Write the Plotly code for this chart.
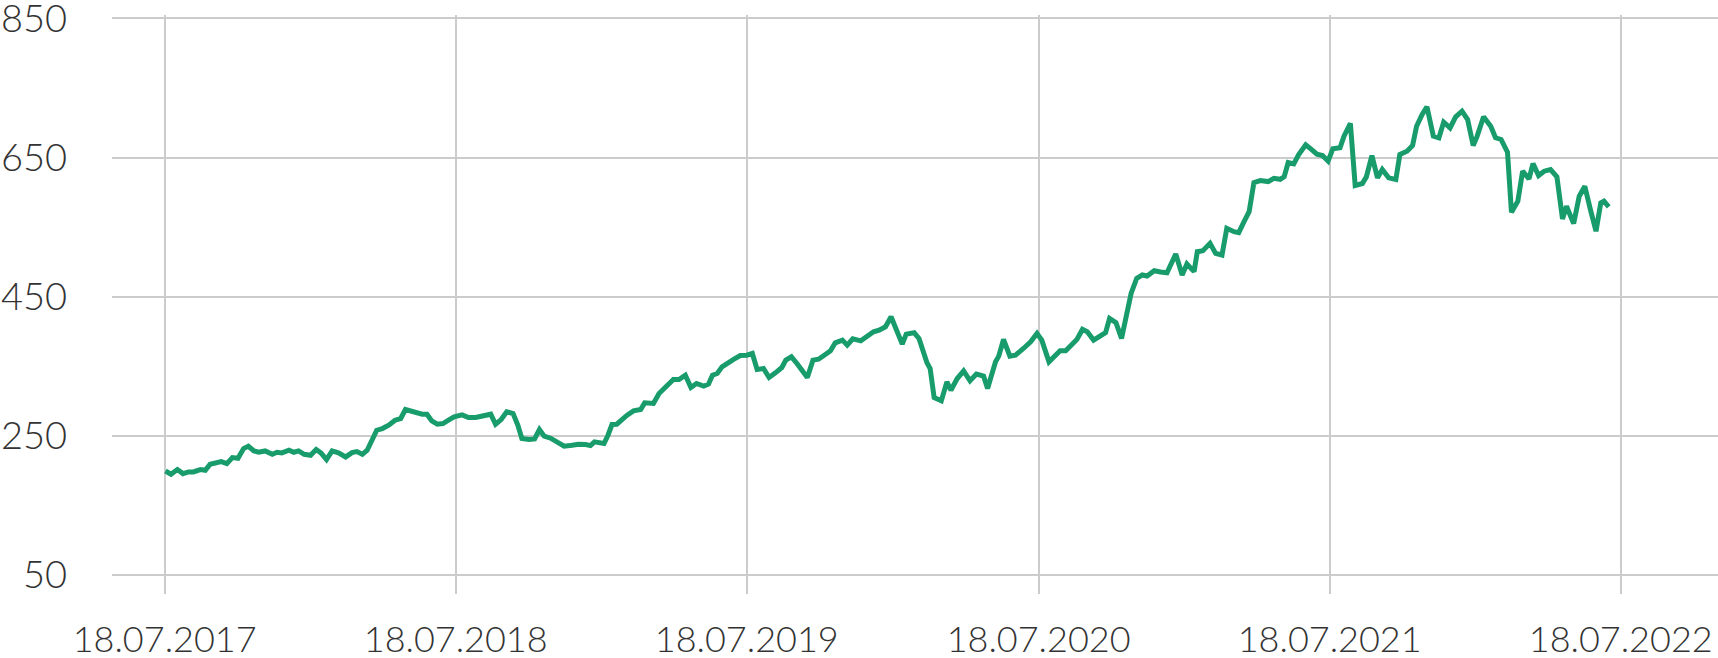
import pandas as pd
import plotly.graph_objects as go

days_since_start = [
    1, 8, 16, 23, 30, 36, 45, 51, 57, 66, 71, 78, 85, 92, 99, 105, 112, 118, 126, 135,
    141, 147, 156, 162, 168, 175, 183, 190, 196, 203, 210, 218, 227, 235, 241, 248, 254, 260, 266, 273,
    281, 289, 296, 302, 308, 317, 323, 329, 335, 342, 349, 356, 363, 373,
    381, 390, 398, 409, 415, 422, 429, 437, 443, 448, 457, 464, 470, 476, 484, 492, 501, 511, 519, 528,
    534, 539, 544, 551, 556, 561, 567, 574, 580, 588, 597, 602, 607, 613, 620, 628, 638, 645, 653, 660,
    667, 676, 682, 687, 693, 699, 706, 714, 722, 730, 737,
    743, 751, 758, 766, 774, 779, 786, 793, 799, 806, 813, 820, 829, 835, 841, 850, 856, 863, 873, 881,
    889, 896, 904, 911, 919, 925, 930, 940, 946, 952, 956, 960, 965, 974, 981, 986, 994, 1002, 1010, 1018,
    1027, 1032, 1042, 1046, 1052, 1060, 1067, 1077, 1086, 1094, 1100, 1109,
    1115, 1123, 1130, 1138, 1144, 1151, 1157, 1165, 1174, 1180, 1185, 1193, 1200, 1206, 1212, 1219, 1226,
    1232, 1241, 1249, 1257, 1268, 1276, 1282, 1291, 1295, 1302, 1311, 1318, 1326, 1332, 1341, 1347, 1353,
    1360, 1366, 1374, 1384, 1391, 1399, 1404, 1409, 1416, 1422, 1431, 1437,
    1445, 1452, 1459, 1465, 1474, 1479, 1487, 1493, 1502, 1507, 1514, 1521, 1527, 1535, 1544, 1549, 1558,
    1565, 1570, 1577, 1583, 1591, 1598, 1604, 1612, 1619, 1627, 1634, 1641, 1646, 1654, 1663, 1669, 1676,
    1684, 1689, 1697, 1703, 1711, 1716, 1723, 1730, 1738, 1746, 1753, 1758, 1767, 1774, 1781, 1788, 1795,
    1801, 1805, 1811,
]

prices = [
    199.6, 194.9, 201.6, 195.8, 198.2, 198.2, 201.6, 200.6, 209.3, 211.2, 213.1, 210.2, 218.8, 217.9, 231.8, 235.1, 228.4, 226.5, 228.4, 223.6,
    226.5, 225.6, 229.4, 226.5, 228.4, 223.6, 222.2, 230.4, 225.6, 216.0, 228.4, 225.6, 219.8, 226.0, 227.5, 223.6, 229.4, 243.8, 258.2, 260.6,
    265.4, 272.6, 275.0, 287.9, 286.0, 282.2, 281.2, 281.2, 271.6, 266.8, 267.8, 272.6, 277.4, 280.2,
    276.4, 276.4, 278.4, 281.2, 266.8, 273.5, 284.6, 282.2, 265.4, 246.2, 244.8, 245.7, 259.2, 249.6, 246.7, 241.4, 235.2, 236.6, 238.1, 237.6,
    236.1, 241.4, 240.0, 239.0, 251.0, 266.4, 266.8, 275.0, 279.8, 286.0, 287.9, 297.5, 297.5, 296.6, 311.0, 319.6, 331.1, 331.1, 337.3, 319.6,
    325.4, 321.5, 324.4, 337.3, 339.7, 349.3, 355.0, 360.3, 365.6, 366.1, 368.5,
    345.5, 346.9, 334.0, 340.7, 348.3, 358.9, 363.7, 354.1, 343.5, 334.0, 358.9, 360.3, 367.5, 372.3, 383.8, 387.7, 380.5, 389.6, 386.7, 392.5,
    399.7, 402.1, 406.9, 421.2, 397.3, 381.9, 396.3, 398.2, 390.1, 366.1, 355.1, 346.9, 305.2, 300.4, 327.7, 315.7, 332.5, 343.5, 329.2, 338.8,
    335.9, 318.1, 356.5, 364.7, 388.6, 364.7, 366.1, 375.7, 385.3, 397.3, 387.7, 356.5,
    363.8, 372.4, 372.4, 382.9, 388.7, 403.1, 399.7, 387.7, 394.9, 398.3, 418.9, 412.7, 390.1, 426.1, 454.9, 476.5, 481.3,
    479.8, 487.5, 485.6, 484.6, 511.5, 481.3, 497.1, 486.1, 514.8, 516.3, 526.8, 512.4, 510.0, 548.4, 543.6, 542.2, 556.6,
    572.4, 614.1, 617.0, 615.6, 620.3, 618.9, 622.7, 642.9, 641.0, 653.9, 668.3, 663.0,
    655.0, 653.0, 645.0, 662.6, 664.1, 680.9, 699.1, 609.9, 612.8, 622.3, 653.0, 620.9, 632.9, 620.9, 618.5, 654.5, 659.3,
    667.4, 695.2, 712.0, 723.1, 680.9, 678.5, 701.0, 692.8, 708.7, 716.8, 704.8, 667.4, 680.9, 708.7, 695.2, 678.5, 676.1,
    657.8, 571.5, 587.3, 630.5, 619.5, 641.5, 624.3, 630.5, 632.9, 622.3, 561.9, 580.1, 555.2, 594.5, 608.9, 575.3, 544.2,
    584.9, 587.3, 579.2,
]

start_date = "2017-07-18"
tick_dates = ["2017-07-18", "2018-07-18", "2019-07-18", "2020-07-18", "2021-07-18", "2022-07-18"]
tick_labels = ["18.07.2017", "18.07.2018", "18.07.2019", "18.07.2020", "18.07.2021", "18.07.2022"]
y_ticks = [50, 250, 450, 650, 850]
x_range = ["2017-05-13", "2022-11-17"]
y_range = [22.8, 855]

dates = pd.Timestamp(start_date) + pd.to_timedelta(days_since_start, unit="D")

fig = go.Figure(
    go.Scatter(
        x=dates,
        y=prices,
        mode="lines",
        line=dict(color="#189c6b", width=5),
        hoverinfo="skip",
    )
)

yfont = dict(family="Lato", size=38, color="#333333", weight=300)
xfont = dict(family="Lato", size=36, color="#333333", weight=300)

fig.update_layout(
    width=1718,
    height=658,
    margin=dict(l=112, r=0, t=15, b=64),
    paper_bgcolor="white",
    plot_bgcolor="white",
    showlegend=False,
    hovermode=False,
    font=yfont,
)
fig.update_xaxes(
    range=x_range,
    tickvals=tick_dates,
    ticktext=tick_labels,
    showgrid=True,
    gridcolor="#cccccc",
    gridwidth=2,
    zeroline=False,
    showline=False,
    ticks="",
    ticklabelstandoff=21,
    ticklabeloverflow="allow",
    tickfont=xfont,
    automargin=False,
)
fig.update_yaxes(
    range=y_range,
    tickvals=y_ticks,
    showgrid=True,
    gridcolor="#cccccc",
    gridwidth=2,
    zeroline=False,
    showline=False,
    ticks="",
    ticklabelstandoff=44,
    ticklabeloverflow="allow",
    tickfont=yfont,
    automargin=False,
)

fig.write_html(
    "out.html",
    config={"displayModeBar": False, "staticPlot": True},
    post_script="document.body.style.margin='0';document.body.style.overflow='hidden';",
)
